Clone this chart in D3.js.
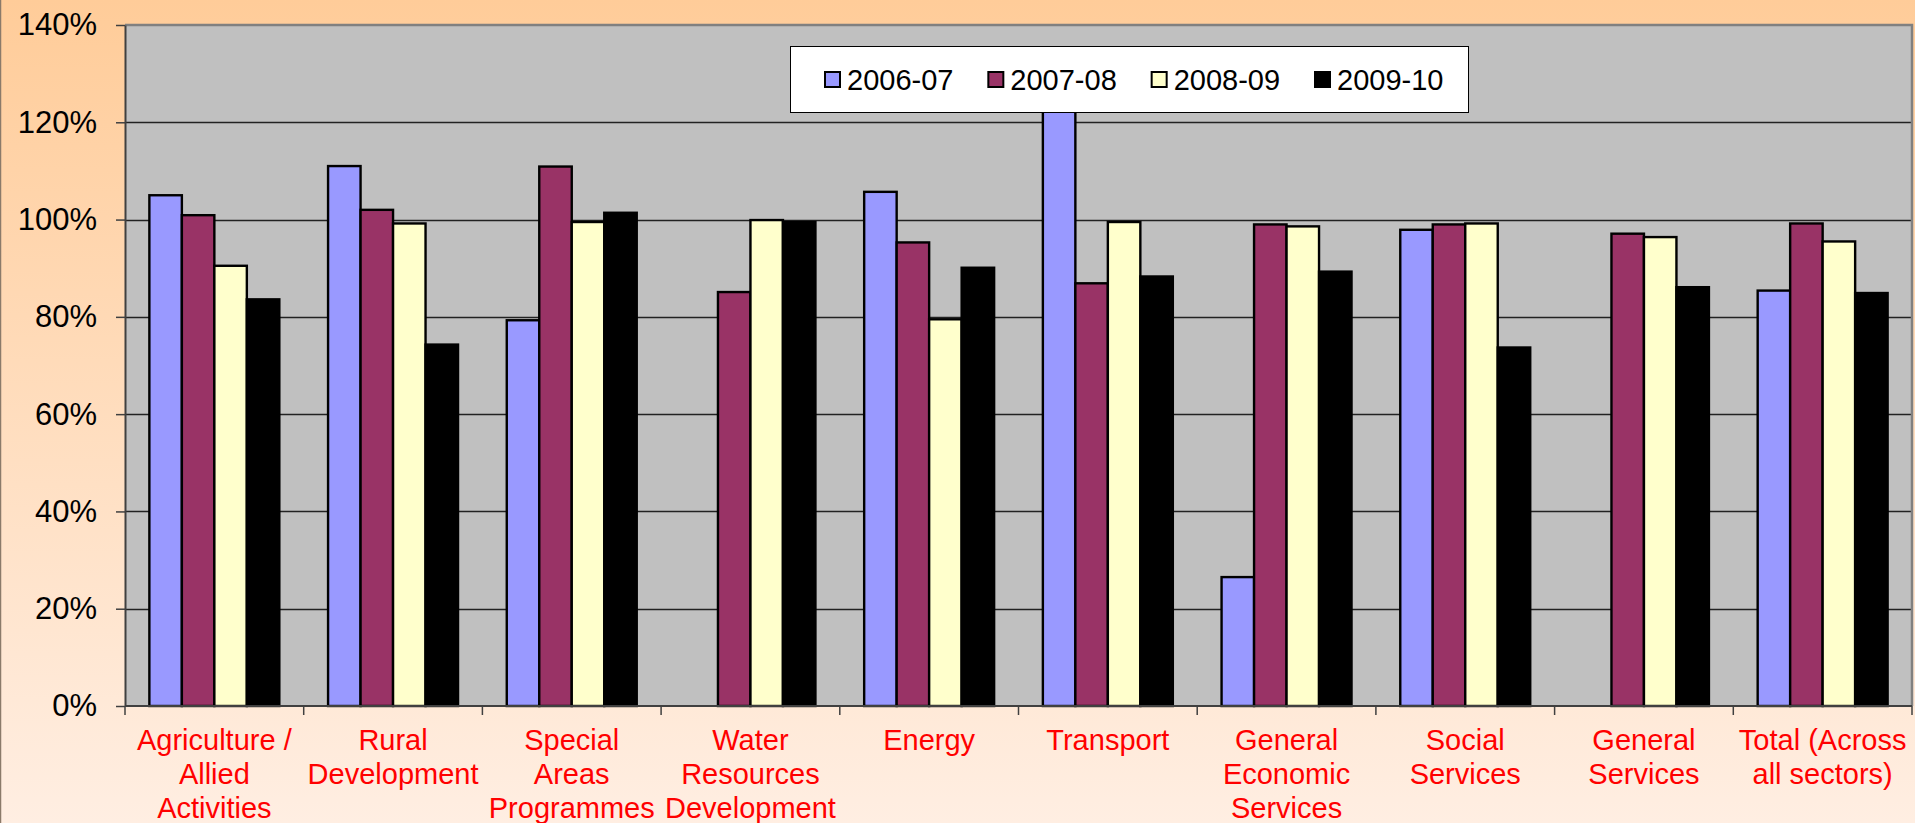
<!DOCTYPE html>
<html>
<head>
<meta charset="utf-8">
<script src="https://cdn.jsdelivr.net/npm/d3@7"></script>
<style>
  html, body { margin: 0; padding: 0; background: #fff; overflow: hidden; }
  svg { display: block; font-family: "Liberation Sans", Arial, sans-serif; }
</style>
</head>
<body>
<svg id="chart" width="1915" height="823"></svg>
<script>
// ---- data ----
const categories = ["Agriculture / Allied Activities", "Rural Development", "Special Areas Programmes",
  "Water Resources Development", "Energy", "Transport", "General Economic Services",
  "Social Services", "General Services", "Total (Across all sectors)"];
const categoryLines = [
  ["Agriculture /", "Allied", "Activities"],
  ["Rural", "Development"],
  ["Special", "Areas", "Programmes"],
  ["Water", "Resources", "Development"],
  ["Energy"],
  ["Transport"],
  ["General", "Economic", "Services"],
  ["Social", "Services"],
  ["General", "Services"],
  ["Total (Across", "all sectors)"]
];
const seriesNames = ["2006-07", "2007-08", "2008-09", "2009-10"];
const v2006_07 = [105.0, 111.0, 79.3, null, 105.7, 130.0, 26.5, 97.9, null, 85.4];
const v2007_08 = [100.9, 102.0, 110.9, 85.1, 95.3, 86.9, 99.0, 99.0, 97.1, 99.2];
const v2008_09 = [90.5, 99.2, 99.5, 99.9, 79.5, 99.5, 98.6, 99.2, 96.4, 95.5];
const v2009_10 = [83.6, 74.3, 101.4, 99.5, 90.1, 88.3, 89.3, 73.7, 86.1, 84.9];
const seriesValues = [v2006_07, v2007_08, v2008_09, v2009_10];
const seriesColors = ["#9999FF", "#993366", "#FFFFCC", "#000000"];
const yTicks = [0, 20, 40, 60, 80, 100, 120, 140];

// ---- layout ----
const W = 1915, H = 823;
const plot = { left: 125, right: 1912, top: 25, bottom: 706 };

const svg = d3.select("#chart");
const defs = svg.append("defs");
const grad = defs.append("linearGradient").attr("id", "bg").attr("x1", 0).attr("y1", 0).attr("x2", 0).attr("y2", 1);
grad.append("stop").attr("offset", "0%").attr("stop-color", "#FFCC99");
grad.append("stop").attr("offset", "100%").attr("stop-color", "#FFEEE2");

svg.append("rect").attr("x", 0).attr("y", 0).attr("width", W).attr("height", H).attr("fill", "url(#bg)");
svg.append("line").attr("x1", 0.5).attr("x2", 0.5).attr("y1", 0).attr("y2", H)
  .attr("stroke", "#8a7a6a").attr("stroke-width", 1.5);

const x0 = d3.scaleBand().domain(categories).range([plot.left, plot.right]).paddingInner(0).paddingOuter(0);
const x1 = d3.scaleBand().domain(seriesNames).range([0, x0.bandwidth()]).paddingInner(0).paddingOuter(0.75);
const y = d3.scaleLinear().domain([0, 140]).range([plot.bottom, plot.top]);

// plot area
svg.append("rect").attr("x", plot.left).attr("y", plot.top)
  .attr("width", plot.right - plot.left).attr("height", plot.bottom - plot.top)
  .attr("fill", "#C0C0C0");

// gridlines
svg.append("g").selectAll("line").data(yTicks.filter(d => d > 0 && d < 140)).join("line")
  .attr("x1", plot.left).attr("x2", plot.right)
  .attr("y1", d => Math.round(y(d)) + 0.5).attr("y2", d => Math.round(y(d)) + 0.5)
  .attr("stroke", "#222").attr("stroke-width", 1.4);

// plot border top/right
svg.append("path")
  .attr("d", `M${plot.left},${plot.top} H${plot.right} V${plot.bottom}`)
  .attr("fill", "none").attr("stroke", "#808080").attr("stroke-width", 2.5);

// bars
const groups = svg.append("g").selectAll("g").data(categories).join("g")
  .attr("transform", d => `translate(${x0(d)},0)`);
groups.each(function(cat, ci) {
  const g = d3.select(this);
  seriesNames.forEach((s, si) => {
    const v = seriesValues[si][ci];
    if (v == null) return;
    g.append("rect")
      .attr("x", x1(s)).attr("width", x1.bandwidth())
      .attr("y", y(v)).attr("height", y(0) - y(v))
      .attr("fill", seriesColors[si])
      .attr("stroke", "#000").attr("stroke-width", 2.4);
  });
});

// y axis
const yAxis = d3.axisLeft(y).tickValues(yTicks).tickFormat(d => d + "%").tickSizeInner(9).tickSizeOuter(0).tickPadding(19);
const yg = svg.append("g").attr("transform", `translate(${plot.left},0)`).call(yAxis);
yg.select(".domain").attr("stroke", "#404040").attr("stroke-width", 2);
yg.selectAll(".tick line").attr("stroke", "#404040").attr("stroke-width", 1.5);
yg.selectAll(".tick text").attr("fill", "#000").attr("font-size", 31)
  .attr("font-family", "'Liberation Sans', Arial, sans-serif");

// x axis (ticks at category boundaries)
svg.append("line").attr("x1", plot.left).attr("x2", plot.right)
  .attr("y1", plot.bottom).attr("y2", plot.bottom).attr("stroke", "#404040").attr("stroke-width", 2);
const boundaries = categories.map(c => x0(c)).concat([plot.right]);
svg.append("g").selectAll("line").data(boundaries).join("line")
  .attr("x1", d => d).attr("x2", d => d).attr("y1", plot.bottom).attr("y2", plot.bottom + 9)
  .attr("stroke", "#404040").attr("stroke-width", 1.5);

// category labels
const labels = svg.append("g").selectAll("text").data(categories).join("text")
  .attr("text-anchor", "middle").attr("fill", "#FF0000").attr("font-size", 29)
  .attr("x", d => x0(d) + x0.bandwidth() / 2);
labels.each(function(d, i) {
  const t = d3.select(this);
  categoryLines[i].forEach((line, li) => {
    t.append("tspan").attr("x", x0(d) + x0.bandwidth() / 2).attr("y", 750 + li * 34).text(line);
  });
});

// legend
const lg = svg.append("g");
lg.append("rect").attr("x", 790.5).attr("y", 46.5).attr("width", 678).attr("height", 66)
  .attr("fill", "#fff").attr("stroke", "#000").attr("stroke-width", 1);
const legendX = d3.scalePoint().domain(seriesNames).range([825, 1315]);
seriesNames.forEach((s, i) => {
  const lx = legendX(s);
  lg.append("rect").attr("x", lx).attr("y", 72).attr("width", 15).attr("height", 15)
    .attr("fill", seriesColors[i]).attr("stroke", "#000").attr("stroke-width", 2);
  lg.append("text").attr("x", lx + 22).attr("y", 79.5).attr("dominant-baseline", "central")
    .attr("font-size", 29).attr("fill", "#000").text(s);
});
</script>
</body>
</html>
